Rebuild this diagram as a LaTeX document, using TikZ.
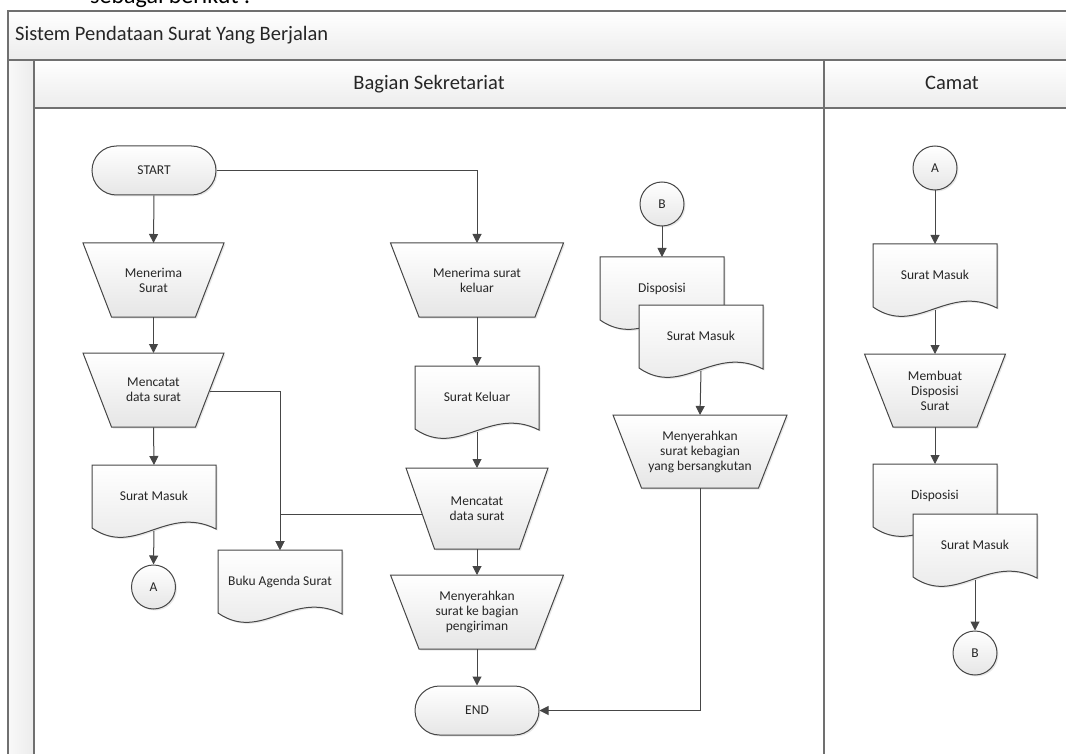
\documentclass[tikz,border=0pt]{standalone}
\usepackage{fontspec}
\setmainfont{Carlito}
\usetikzlibrary{arrows.meta,shadows,calc}
\definecolor{lc}{RGB}{70,70,70}
\definecolor{fb}{RGB}{230,230,230}
\definecolor{framec}{RGB}{112,112,112}
\definecolor{hb}{RGB}{236,236,236}
\tikzset{
 shp/.style={draw=lc, line width=1pt, top color=white, bottom color=fb,
   drop shadow={shadow xshift=1.5pt,shadow yshift=-1.5pt,opacity=0.18}},
 txt/.style={font=\fontsize{13.5}{15}\selectfont, align=center, inner sep=0pt, text=black!85},
 term/.style={shp, rounded corners=24.5pt, minimum width=124pt, minimum height=49pt, txt},
 conn/.style={shp, circle, minimum size=44pt, txt},
 arr/.style={draw=lc, line width=1pt, -{Triangle[width=9pt,length=9pt]}},
 lane/.style={draw=framec, line width=1.6pt},
 hdr/.style={font=\fontsize{20.5}{22}\selectfont, inner sep=0pt, text=black!85},
}
% trapezoid: name, cx, ytop, topwidth, height, text
\newcommand\trapz[6]{%
 \path[shp] ({#2-#4/2},#3) -- ({#2+#4/2},#3) -- ({#2+#4/2-28.5},{#3+#5}) -- ({#2-#4/2+28.5},{#3+#5}) -- cycle;
 \node[txt, minimum width=#4pt, minimum height=#5pt, anchor=north] (#1) at (#2,#3) {#6};
}
% document: name, xleft, ytop, text
\newcommand\docu[4]{%
 \path[shp] (#2,#3) -- ({#2+124},#3) -- ({#2+124},{#3+64}) .. controls ({#2+74.4},{#3+39}) and ({#2+43.4},{#3+93}) .. (#2,{#3+63}) -- cycle;
 \node[txt, minimum width=124pt, minimum height=65.4pt, anchor=north] (#1) at ({#2+62},#3) {\raisebox{3.5pt}{#4}};
}
\begin{document}
\begin{tikzpicture}[x=1pt,y=-1pt]
\useasboundingbox (0,0) rectangle (1066,754);
\clip (0,0) rectangle (1066,754);
% pool and lanes
\path[top color=white, bottom color=hb] (8,11) rectangle (1080,60);
\path[top color=white, bottom color=hb] (34,60) rectangle (1080,108);
\path[left color=white!95!gray, right color=hb] (8,60) rectangle (34,760);
\draw[lane] (8,760) -- (8,11) -- (1080,11);
\draw[lane] (8,60) -- (1080,60);
\draw[lane] (34,108) -- (1080,108);
\draw[lane] (34,60) -- (34,760);
\draw[lane] (824,60) -- (824,760);
\node[font=\fontsize{24}{26}\selectfont, anchor=base west, inner sep=0pt] (cap) at (90,4) {sebagai berikut :};
\node[hdr, anchor=base west] (title) at (15,41) {Sistem Pendataan Surat Yang Berjalan};
\node[hdr, anchor=base] (lane1) at (429,90) {Bagian Sekretariat};
\node[hdr, anchor=base] (lane2) at (952,90) {Camat};
% left column
\node[term] (start) at (154,170.5) {START};
\trapz{mr}{153.5}{243}{141}{74}{Menerima\\Surat}
\trapz{mc1}{153.5}{353}{141}{74}{Mencatat\\data surat}
\docu{sm1}{92}{465}{Surat Masuk}
\node[conn] (a1) at (153.5,587) {A};
\docu{buku}{218}{550}{Buku Agenda Surat}
% middle column
\trapz{mk}{477}{243}{173}{74}{Menerima surat\\keluar}
\docu{sk}{415}{366}{Surat Keluar}
\trapz{mc2}{477}{468}{142}{81}{Mencatat\\data surat}
\trapz{mm}{477}{575}{173}{74}{Menyerahkan\\surat ke bagian\\pengiriman}
\node[term] (end) at (477,710.5) {END};
% B column
\node[conn] (b1) at (662,204) {B};
\docu{dp1}{600}{257}{Disposisi}
\docu{sm2}{639}{305}{Surat Masuk}
\trapz{ms}{700}{415}{174}{73}{Menyerahkan\\surat kebagian\\yang bersangkutan}
% Camat
\node[conn] (a2) at (935,168) {A};
\docu{sm3}{873}{244}{Surat Masuk}
\trapz{mb}{935}{354}{141}{73}{Membuat\\Disposisi\\Surat}
\docu{dp2}{873}{464}{Disposisi}
\docu{sm4}{913}{514}{Surat Masuk}
\node[conn] (b2) at (975,653) {B};
% connectors
\draw[arr] (start.south) -- (mr.north);
\draw[arr] (start.east) -| (mk.north);
\draw[arr] (mr.south) -- (mc1.north);
\draw[arr] (mc1.south) -- (sm1.north);
\draw[arr] (sm1.south) -- (a1.north);
\draw[arr] ([xshift=-14pt,yshift=-1pt]mc1.east) -| (buku.north);
\draw[arr] ([xshift=16pt,yshift=-6pt]mc2.west) -| (buku.north);
\draw[arr] (mk.south) -- (sk.north);
\draw[arr] (sk.south) -- (mc2.north);
\draw[arr] (mc2.south) -- (mm.north);
\draw[arr] (mm.south) -- (end.north);
\draw[arr] (b1.south) -- (dp1.north);
\draw[arr] (sm2.south) -- (ms.north);
\draw[arr] (ms.south) |- (end.east);
\draw[arr] (a2.south) -- (sm3.north);
\draw[arr] (sm3.south) -- (mb.north);
\draw[arr] (mb.south) -- (dp2.north);
\draw[arr] (sm4.south) -- (b2.north);
\end{tikzpicture}
\end{document}
